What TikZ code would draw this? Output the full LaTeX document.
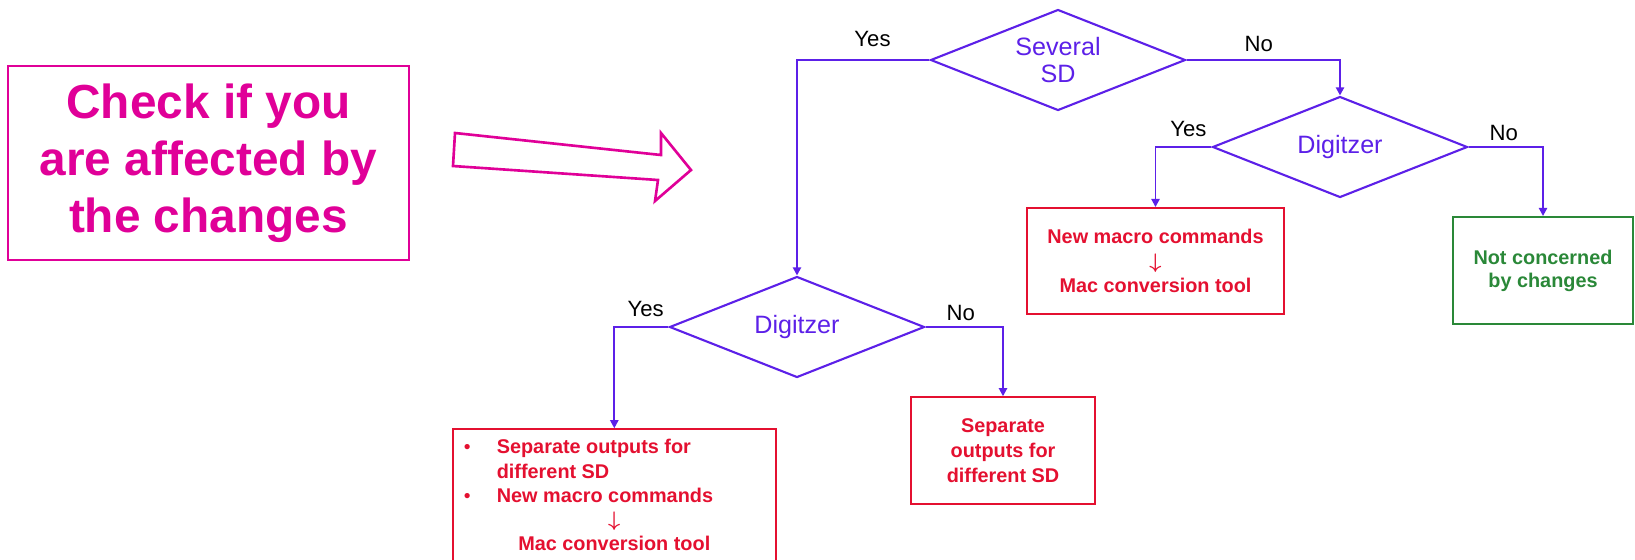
\documentclass[tikz,border=0pt]{standalone}
\usepackage{amsmath,amssymb}
\usepackage{fontspec}
\setmainfont{Liberation Sans}
\usepackage{tikz}
\usetikzlibrary{shapes,arrows}
\usetikzlibrary{arrows.meta}
\definecolor{checkpink}{RGB}{224,0,152}
\definecolor{flowblue}{RGB}{92,32,232}
\definecolor{warnred}{RGB}{228,16,48}
\definecolor{okgreen}{RGB}{42,136,56}
\newcommand{\downstep}{{\fontsize{13}{13.8}\selectfont$\boldsymbol{\downarrow}$}}
\newcommand{\dotitem}{{\normalfont\fontsize{11}{11}\selectfont\textbullet}}

\begin{document}
\begin{tikzpicture}[x=0.02cm,y=-0.02cm]

\tikzstyle{every node}=[font=\fontsize{11.3}{13.8}\selectfont\bfseries]
\tikzstyle{question}=[draw=flowblue, line width=1.2pt, diamond, aspect=2.5, inner sep=0pt, minimum width=5.1cm, minimum height=2.02cm, text=flowblue, font=\fontsize{14.3}{15.9}\selectfont, align=center]
\tikzstyle{redbox}=[draw=warnred, line width=1.1pt, text=warnred, align=center, inner sep=0pt]
\tikzstyle{lbl}=[font=\fontsize{12.6}{14}\selectfont, inner sep=0pt]
\tikzstyle{flow}=[draw=flowblue, line width=1.1pt, -{Triangle[width=4.6pt,length=4.6pt]}]

\useasboundingbox (0,0) rectangle (1635,559);
\clip (0,0) rectangle (1635,559);

% intro
\node [draw=checkpink, line width=1.5pt, text=checkpink, minimum width=8.02cm, minimum height=3.88cm, align=center, font=\fontsize{27.2}{32.4}\selectfont\bfseries] (check) at (208.5,163) {Check if you\\are affected by\\the changes};
\draw [checkpink, line width=1.5pt, line join=miter] (455,133) -- (661,155) -- (661,133) -- (691,170) -- (655,201) -- (658,180) -- (453,166) -- cycle;

% questions
\node [question] (several) at (1058,60) {Several\\SD};
\node [question] (digA) at (1340,147) {Digitzer};
\node [question] (digB) at (797,327) {Digitzer};

% answers
\node [redbox, minimum width=5.14cm, minimum height=2.12cm] (macroBox) at (1155.5,261) {New macro commands\\\downstep\\Mac conversion tool};
\node [draw=okgreen, line width=1.1pt, text=okgreen, align=center, inner sep=0pt, minimum width=3.6cm, minimum height=2.14cm, font=\fontsize{11.3}{13.2}\selectfont\bfseries] (notBox) at (1543,270.5) {Not concerned\\by changes};
\node [redbox, minimum width=3.68cm, minimum height=2.14cm, font=\fontsize{11.3}{14}\selectfont\bfseries] (sepBox) at (1003,450.7) {Separate\\outputs for\\different SD};
\node [redbox, anchor=north, minimum width=6.46cm, inner xsep=0.22cm, inner ysep=4.3pt] (bothBox) at (614.3,428.3) {%
\begin{tabular}{@{}p{0.66cm}@{}p{5.36cm}@{}}
\dotitem & Separate outputs for\\
 & different SD\\
\dotitem & New macro commands\\
\multicolumn{2}{c}{\downstep}\\
\multicolumn{2}{c}{Mac conversion tool}
\end{tabular}};

% flow
\draw [flow] (several.west) -| node [lbl, pos=0.215, above=0.25cm] {Yes} (digB.north);
\draw [flow] (several.east) -| node [lbl, pos=0.235, above=0.15cm] {No} (digA.north);
\draw [flow] (digA.west) -| node [lbl, pos=0.207, above=0.18cm] {Yes} (macroBox.north);
\draw [flow] (digA.east) -| node [lbl, pos=0.237, above=0.11cm] {No} (notBox.north);
\draw [flow] (digB.west) -| node [lbl, pos=0.21, above=0.18cm] {Yes} (bothBox.north);
\draw [flow] (digB.east) -| node [lbl, pos=0.227, above=0.11cm] {No} (sepBox.north);

\end{tikzpicture}
\end{document}
